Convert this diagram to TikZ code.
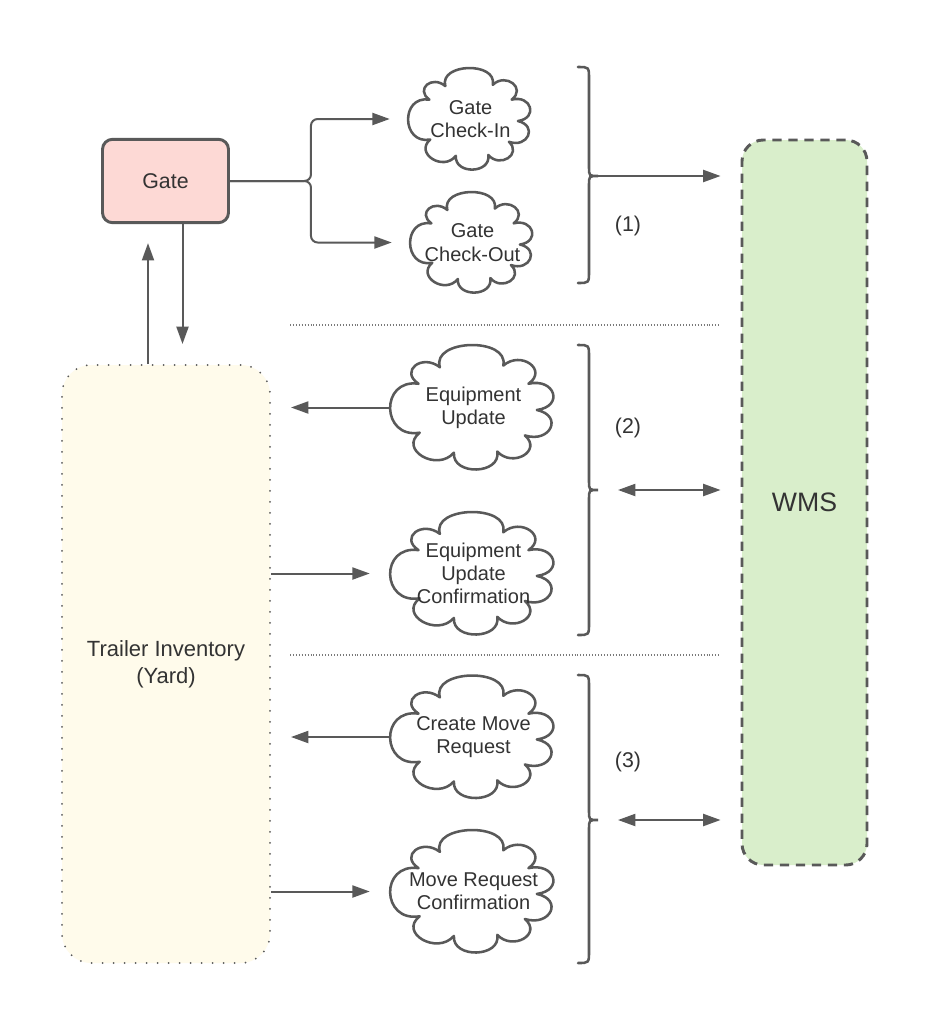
\documentclass[tikz,border=0pt]{standalone}
\usepackage{fontspec}
\setmainfont{Liberation Sans}
\usetikzlibrary{arrows.meta,calc}
\definecolor{ln}{HTML}{595959}
\definecolor{txt}{HTML}{333333}
\definecolor{gatefill}{HTML}{FDD9D5}
\definecolor{wmsfill}{HTML}{D9EECB}
\definecolor{yardfill}{HTML}{FFFBEB}
% cloud outline centred at (#1,#2) with half sizes #3, #4 (in px units)
\newcommand\cloudshape[4]{%
  \begin{scope}[shift={(#1,#2)}, xscale=#3, yscale=-#4]
    \draw[cloudline] (150:0.76)
      \foreach \a/\b/\s in {150/212/1.60, 212/252/1.48, 252/292/1.48, 292/324/1.42,
                            324/357/1.43, 357/390/1.43, 390/422/1.42, 422/482/1.59, 482/510/1.40}
      { .. controls ({\a+0.12*(\b-\a)}:{0.76*\s}) and ({\b-0.12*(\b-\a)}:{0.76*\s}) .. (\b:0.76) }
      -- cycle;
  \end{scope}}
% brace: top #1, tip #2, bottom #3
\newcommand\mybrace[3]{%
  \draw[brc] (578,#1) .. controls (589,#1) .. (589,#1+12) -- (589,#2-9)
    .. controls (589,#2) .. (598,#2) .. controls (589,#2) .. (589,#2+9)
    -- (589,#3-12) .. controls (589,#3) .. (578,#3);}
\begin{document}
\begin{tikzpicture}[x=0.75pt,y=-0.75pt,
  line/.style={draw=ln, line width=1.5pt},
  arr/.style={line, -{Triangle[length=13pt,width=9pt]}},
  dbl/.style={line, {Triangle[length=13pt,width=9pt]}-{Triangle[length=13pt,width=9pt]}},
  brc/.style={draw=ln, line width=1.9pt, line cap=round},
  cloudline/.style={draw=ln, line width=1.9pt, line join=round},
  ctext/.style={text=txt, align=center, font=\fontsize{15}{17.5}\selectfont, inner sep=0pt},
  lbl/.style={text=txt, font=\fontsize{16}{19}\selectfont, inner sep=0pt},
  sep/.style={draw=ln!80, line width=0.8pt, dash pattern=on 0.7pt off 1.5pt},
]
\useasboundingbox[fill=white] (0,0) rectangle (933,1035);

% main boxes
\node[draw=ln, line width=2.2pt, fill=gatefill, rounded corners=7.5pt,
      minimum width=94.5pt, minimum height=62.5pt, text=txt,
      font=\fontsize{16}{19}\selectfont] (gate) at (165.5,181) {Gate};
\node[draw=ln, line width=2.2pt, dash pattern=on 7pt off 5pt, fill=wmsfill,
      rounded corners=16pt, minimum width=93.75pt, minimum height=543.75pt,
      text=txt, font=\fontsize{20}{24}\selectfont] (wms) at (804.5,502.5) {WMS};
\node[draw=ln, line width=1.5pt, dash pattern=on 0pt off 8.25pt, line cap=round,
      fill=yardfill, rounded corners=22pt, minimum width=156pt, minimum height=448.5pt,
      text=txt, align=center, font=\fontsize{16.5}{20}\selectfont] (yard) at (166,664)
      {Trailer Inventory\\(Yard)};

% clouds
\cloudshape{470.5}{119}{62.5}{51}
\node[ctext, minimum width=93.75pt, minimum height=76.5pt] (gci) at (470.5,119) {Gate\\Check-In};
\cloudshape{472.5}{242.5}{62.5}{50.5}
\node[ctext, minimum width=93.75pt, minimum height=75.75pt] (gco) at (472.5,242.5) {Gate\\Check-Out};
\cloudshape{473.5}{407.5}{83.5}{62.5}
\node[ctext, minimum width=125.25pt, minimum height=93.75pt] (eu) at (473.5,407.5) {Equipment\\Update};
\cloudshape{473.5}{573.5}{83.5}{61.5}
\node[ctext, minimum width=125.25pt, minimum height=92.25pt] (euc) at (473.5,573.5) {Equipment\\Update\\Confirmation};
\cloudshape{473.5}{737}{83.5}{61.5}
\node[ctext, minimum width=125.25pt, minimum height=92.25pt] (cmr) at (473.5,737) {Create Move\\Request};
\cloudshape{473.5}{891.5}{83.5}{61.5}
\node[ctext, minimum width=125.25pt, minimum height=92.25pt] (mrc) at (473.5,891.5) {Move Request\\Confirmation};

% gate to clouds
\draw[arr, rounded corners=5pt, shorten >=13.5pt] (gate.east) -- ++(81,0) |- (gci.west);
\draw[arr, rounded corners=5pt, shorten >=13.5pt] (gate.east) -- ++(81,0) |- (gco.west);

% gate <-> yard
\draw[arr, shorten >=14.25pt] ([xshift=-13.5pt]yard.north) -- ([xshift=-13.5pt]yard.north |- gate.south);
\draw[arr, shorten >=15pt] ([xshift=12.75pt]gate.south) -- ([xshift=12.75pt]gate.south |- yard.north);

% yard <-> clouds
\draw[arr, shorten >=15pt] (eu.west) -- (yard.east |- eu.west);
\draw[arr, shorten >=15pt] (yard.east |- euc.west) -- (euc.west);
\draw[arr, shorten >=15pt] (cmr.west) -- (yard.east |- cmr.west);
\draw[arr, shorten >=15pt] (yard.east |- mrc.west) -- (mrc.west);

% separators
\coordinate (s1a) at (290,325);
\coordinate (s2a) at (290,655);
\draw[sep] (s1a) -- ($(wms.west |- s1a)+(-20,0)$);
\draw[sep] (s2a) -- ($(wms.west |- s2a)+(-20,0)$);

% braces
\mybrace{67}{176}{283}
\mybrace{345}{490}{635}
\mybrace{675}{820}{963}
\coordinate (b1) at (598,176);
\coordinate (b2) at (598,490);
\coordinate (b3) at (598,820);

\draw[arr, shorten >=15pt] (b1) -- (wms.west |- b1);
\draw[dbl, shorten <=15pt, shorten >=15pt] (b2) -- (wms.west |- b2);
\draw[dbl, shorten <=15pt, shorten >=15pt] (b3) -- (wms.west |- b3);

\node[lbl] (l1) at (628,226) {(1)};
\node[lbl] (l2) at (628,428) {(2)};
\node[lbl] (l3) at (628,762) {(3)};
\end{tikzpicture}
\end{document}
